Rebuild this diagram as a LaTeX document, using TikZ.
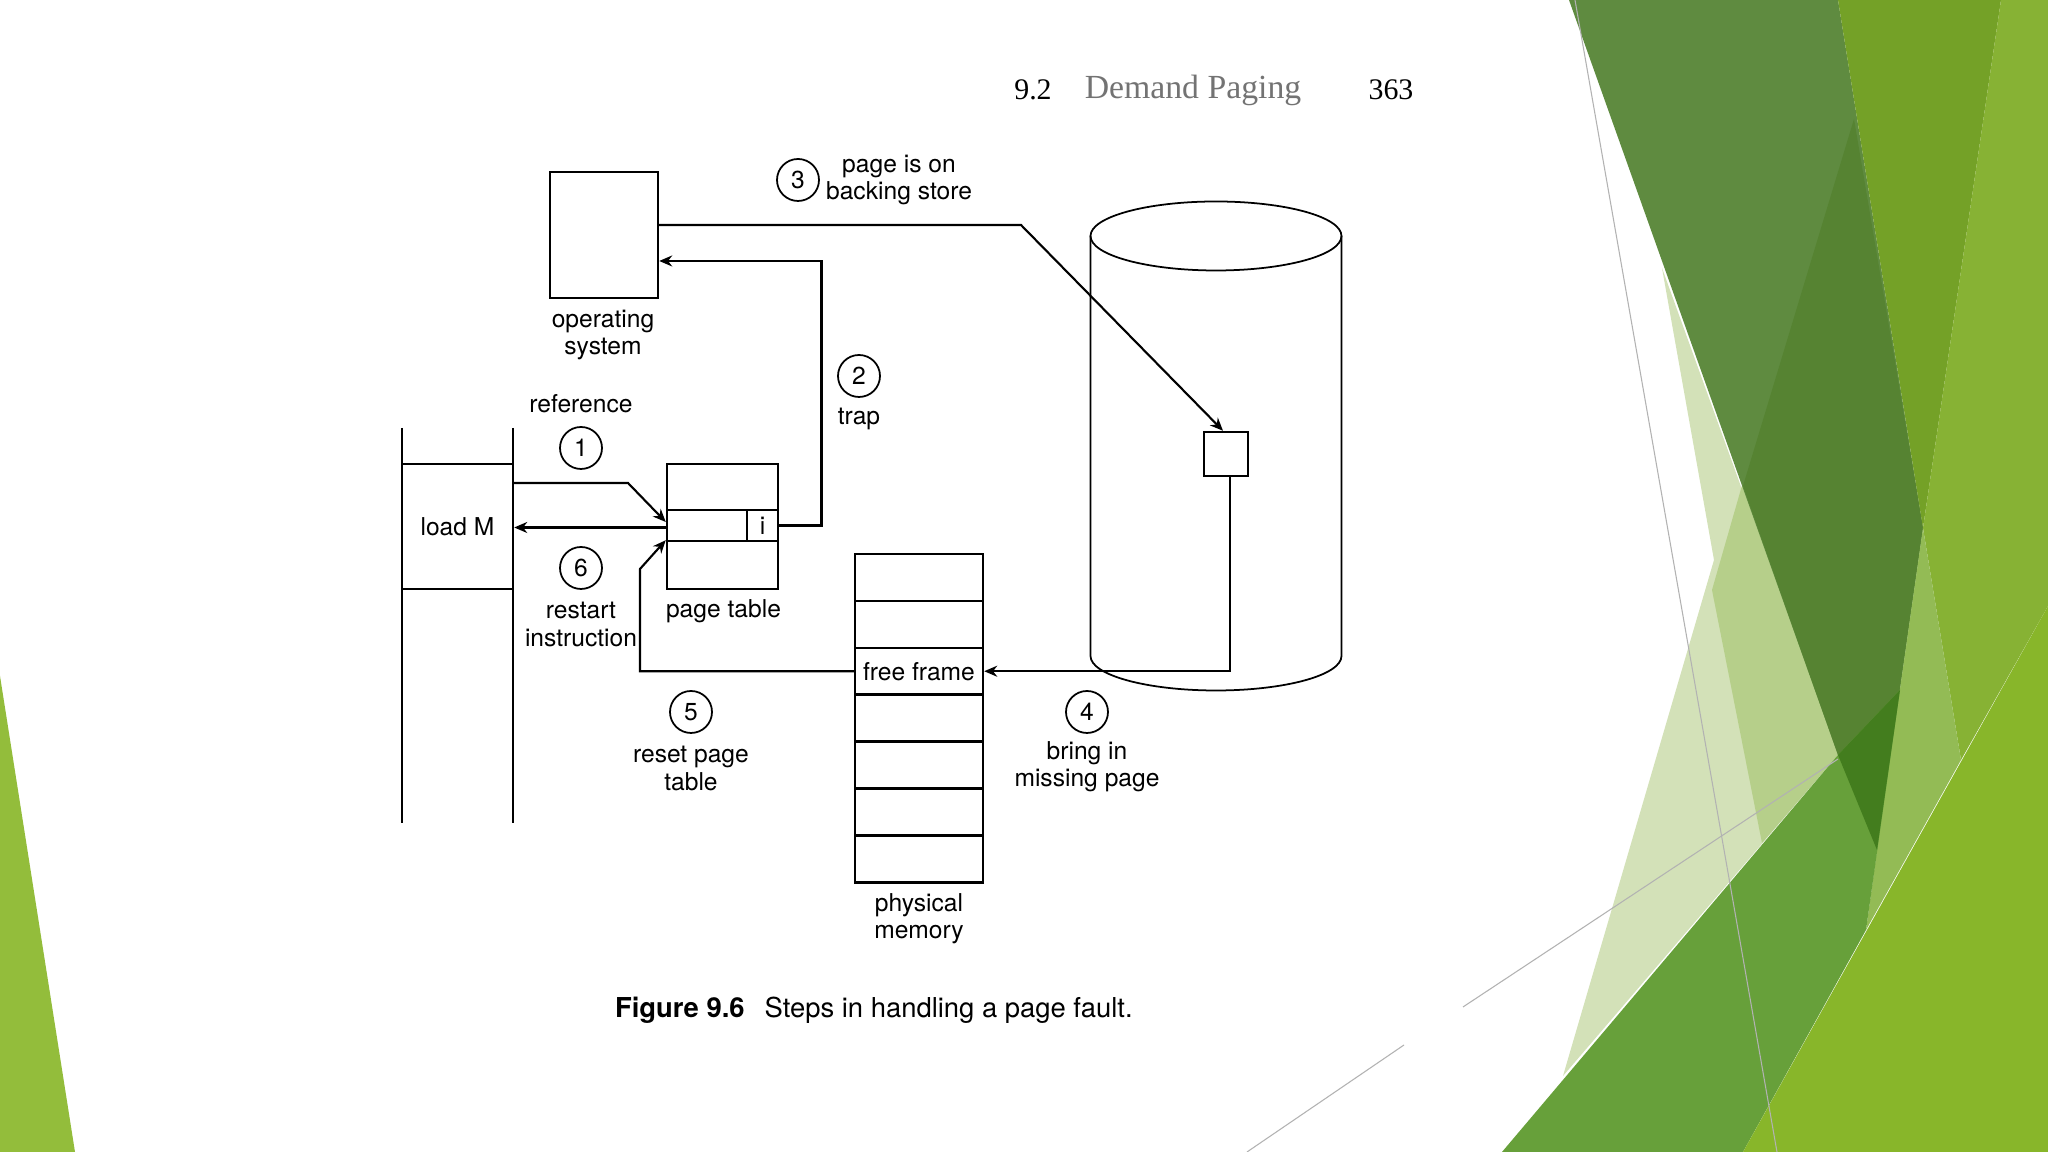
\documentclass[tikz,border=0pt]{standalone}
\usepackage{fontspec}
\setmainfont{TeX Gyre Heros}
\newfontfamily\headfont{Liberation Serif}
\usetikzlibrary{arrows.meta}

\definecolor{leafleft}{HTML}{93BD3B}
\definecolor{leafmid}{HTML}{5F8B40}
\definecolor{leafdark}{HTML}{568332}
\definecolor{leafdeep}{HTML}{437D1E}
\definecolor{leafolive}{HTML}{74A127}
\definecolor{leaflime}{HTML}{87B234}
\definecolor{leafsoft}{HTML}{93BB55}
\definecolor{leafbright}{HTML}{88B62A}
\definecolor{leafband}{HTML}{67A03A}
\definecolor{leafpale}{HTML}{D3E1B8}
\definecolor{leafpaler}{HTML}{B6CF8A}

\begin{document}
\begin{tikzpicture}[
  line width=0.6pt,
  box/.style={draw, inner sep=0pt, line width=0.7pt},
  lbl/.style={font=\fontsize{7}{7.8}\selectfont, align=center, inner sep=0pt},
  stepnum/.style={draw, circle, minimum size=0.42cm, inner sep=0pt, line width=0.5pt,
    font=\fontsize{7}{7.8}\selectfont},
  flow/.style={-{Stealth[length=1.3mm,width=1.1mm]}},
  hairline/.style={draw=black!30, line width=0.3pt}
]

% Slide background
\useasboundingbox (0,0) rectangle (20.48,11.52);
\fill[white] (0,0) rectangle (20.48,11.52);

% Green sliver on the left
\fill[leafleft] (0,4.76) -- (0.75,0) -- (0,0) -- cycle;

% Green planes on the right
\fill[leafpale] (16.62,8.84) -- (17.14,5.92) -- (15.63,0.76) -- (18.38,3.97) -- cycle;
\fill[leafpaler] (17.43,6.70) -- (17.12,5.62) -- (17.62,3.09) -- (18.38,3.97) -- cycle;
\fill[leafmid] (15.69,11.52) -- (18.38,11.52) -- (19.23,6.24) -- (18.77,3.02) -- (18.38,3.97) -- cycle;
\fill[leafdark] (17.43,6.66) -- (18.54,10.33) -- (19.23,6.24) -- (18.77,3.02) -- (18.38,3.97) -- cycle;
\fill[leafolive] (18.38,11.52) -- (20.01,11.52) -- (19.23,6.24) -- cycle;
\fill[leaflime] (20.01,11.52) -- (20.48,11.52) -- (20.48,5.46) -- (19.61,3.92) -- (19.23,6.24) -- cycle;
\fill[leafsoft] (19.23,6.24) -- (19.61,3.92) -- (18.66,2.22) -- (18.77,3.02) -- cycle;
\fill[leafband] (15.02,0) -- (18.38,3.97) -- (19.00,4.62) -- (18.66,2.22) -- (17.43,0) -- cycle;
\fill[leafdeep] (18.38,3.97) -- (19.00,4.62) -- (18.77,3.02) -- cycle;
\fill[leafbright] (20.48,5.46) -- (20.48,0) -- (17.43,0) -- cycle;

% Thin construction lines
\draw[hairline] (15.75,11.52) -- (17.77,0);
\draw[hairline] (14.63,1.45) -- (18.38,3.93);
\draw[hairline] (12.47,0) -- (14.04,1.07);

% Running head
\node[font=\headfont\fontsize{8.5}{10}\selectfont] (secnum) at (10.33,10.62) {9.2};
\node[font=\headfont\fontsize{9.6}{11}\selectfont, text=black!55] (sectitle) at (11.93,10.62) {Demand Paging};
\node[font=\headfont\fontsize{8.5}{10}\selectfont] (pagenum) at (13.91,10.62) {363};

% Operating system
\node[box, minimum width=1.08cm, minimum height=1.26cm] (os) at (6.04,9.17) {};
\node[lbl] (oslbl) at (6.03,8.17) {operating\\system};

% Instruction stream
\draw (4.02,7.24) -- (4.02,3.29);
\draw (5.13,7.24) -- (5.13,3.29);
\node[box, minimum width=1.11cm, minimum height=1.25cm, font=\fontsize{7}{7.8}\selectfont] (loadm) at (4.575,6.255) {load M};

% Page table
\node[box, minimum width=1.11cm, minimum height=1.25cm] (pt) at (7.225,6.255) {};
\node[box, minimum width=1.11cm, minimum height=0.31cm] (ptrow) at (7.225,6.265) {};
\node[box, minimum width=0.31cm, minimum height=0.31cm, font=\fontsize{7}{7.8}\selectfont] (icell) at (7.625,6.265) {i};
\node[lbl] (ptlbl) at (7.235,5.41) {page table};

% Backing store
\draw[line width=0.5pt] (10.905,9.16) -- (10.905,4.96)
  arc[start angle=180,end angle=360,x radius=1.255,y radius=0.345] -- (13.415,9.16);
\draw[line width=0.5pt] (12.16,9.16) ellipse [x radius=1.255, y radius=0.345];
\node[box, fill=white, minimum size=0.44cm] (blk) at (12.26,6.98) {};

% Physical memory
\foreach \n in {0,...,6}
  \node[box, minimum width=1.28cm, minimum height=0.469cm] (f\n) at (9.19,{5.98-0.469*(\n+0.5)}) {};
\node[lbl] (freelbl) at (f2) {free frame};
\node[lbl] (memlbl) at (9.19,2.335) {physical\\memory};

% Bends of the connectors
\coordinate (c1) at (6.28,6.69);
\coordinate (c2) at (8.215,8.91);
\coordinate (c3) at (10.21,9.27);
\coordinate (c5) at (6.40,5.83);
\coordinate (c6) at ([yshift=-0.02cm]ptrow.west);

% Step 1: reference
\node[lbl] (reflbl) at (5.81,7.48) {reference};
\node[stepnum] (s1) at (5.81,7.04) {1};
\draw[flow] (loadm.east |- c1) -- (c1) -- ([yshift=0.035cm]ptrow.west);

% Step 2: trap
\node[stepnum] (s2) at (8.59,7.76) {2};
\node[lbl] (traplbl) at (8.59,7.33) {trap};
\draw[flow] (icell.east) -| (c2) -- (os.east |- c2);

% Step 3: page is on backing store
\node[stepnum] (s3) at (7.98,9.72) {3};
\node[lbl] (storelbl) at (8.99,9.72) {page is on\\backing store};
\draw[flow] (os.east |- c3) -- (c3) -- ([xshift=-0.03cm]blk.north);

% Step 4: bring in missing page
\node[stepnum] (s4) at (10.87,4.40) {4};
\node[lbl] (bringlbl) at (10.87,3.85) {bring in\\missing page};
\draw[flow] ([xshift=0.04cm]blk.south) |- (f2.east);

% Step 5: reset page table
\node[stepnum] (s5) at (6.91,4.40) {5};
\node[lbl] (resetlbl) at (6.91,3.835) {reset page\\table};
\draw[flow] (f2.west) -| (c5) -- ([yshift=0.02cm]ptrow.south west);

% Step 6: restart instruction
\node[stepnum] (s6) at (5.81,5.84) {6};
\node[lbl] (restartlbl) at (5.81,5.275) {restart\\instruction};
\draw[flow] (c6) -- (loadm.east |- c6);

% Caption
\node[anchor=west, inner sep=0pt, font=\fontsize{7.8}{9}\selectfont] (caption) at (6.14,1.42)
  {\textbf{Figure 9.6}\hspace{0.2cm}Steps in handling a page fault.};

\end{tikzpicture}
\end{document}
